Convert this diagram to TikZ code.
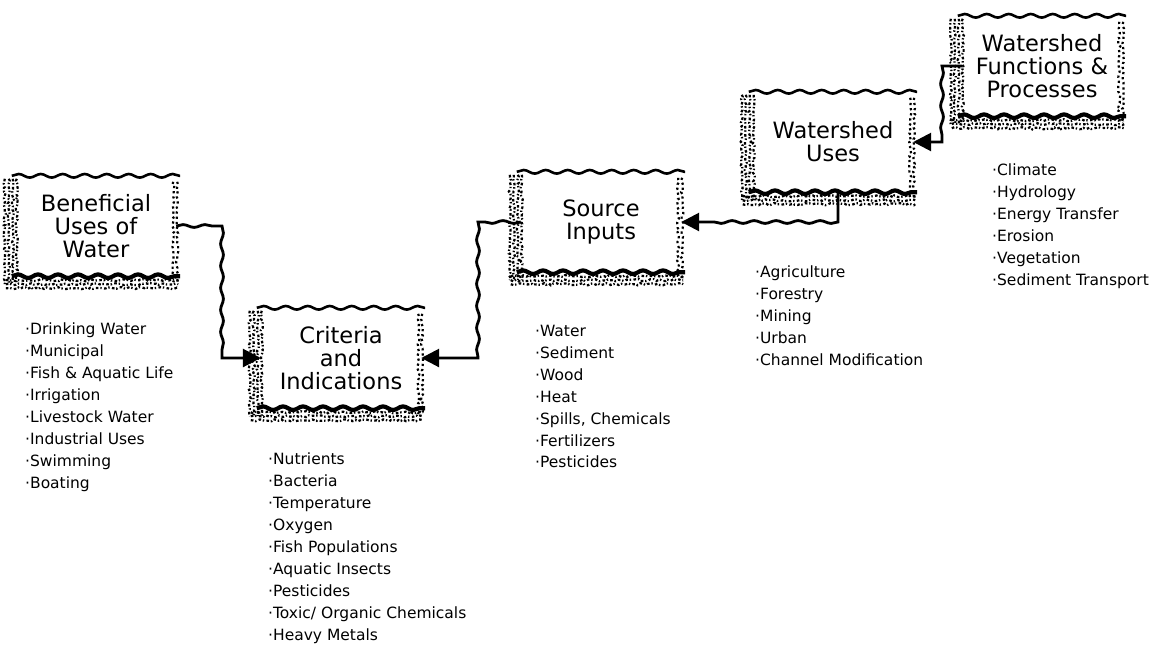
\documentclass[tikz,border=0pt]{standalone}
\usepackage{fontspec}
\setmainfont{DejaVu Sans}
\usetikzlibrary{arrows.meta, decorations.pathmorphing, calc}

\begin{document}
\pgfmathsetseed{17}
\begin{tikzpicture}[x=1pt, y=-1pt,
    box/.style={rectangle, fill=white, minimum width=160pt, minimum height=100pt, align=center, font=\fontsize{22.5}{23}\selectfont},
    items/.style={anchor=north west, align=left, inner sep=0pt, font=\fontsize{15.5}{21.9}\selectfont},
    topedge/.style={line width=2.6pt, decorate, decoration={snake, amplitude=1.8pt, segment length=22pt}},
    bottomedge/.style={line width=4.2pt, decorate, decoration={snake, amplitude=1.8pt, segment length=20pt}},
    grain/.style={line width=2.2pt, dash pattern=on 2.6pt off 1.8pt on 1.4pt off 2.4pt, decorate, decoration={random steps, segment length=2.5pt, amplitude=1.1pt}},
    flow/.style={line width=2.8pt, -{Triangle[length=18pt, width=18pt]}, decoration={snake, amplitude=1.4pt, segment length=22pt}},
]
\useasboundingbox (0,0) rectangle (1156,646);

% Boxes
\node[box] (benef) at (96, 226) {Beneficial\\Uses of\\Water};
\node[box] (crit) at (341, 358) {Criteria\\and\\Indications};
\node[box] (src) at (601, 222) {Source\\Inputs};
\node[box] (wuses) at (833, 142) {Watershed\\Uses};
\node[box] (wfunc) at (1042, 66) {Watershed\\Functions \&\\Processes};

% Sketchy borders
\foreach \b in {benef, crit, src, wuses, wfunc} {
  \draw[topedge] ([xshift=-4pt]\b.north west) -- ([xshift=4pt]\b.north east);
  \foreach \d in {-11,-7,-3,1}
    \draw[grain] ([xshift=\d pt, yshift=-3pt]\b.north west) -- ([xshift=\d pt, yshift=-8pt]\b.south west);
  \foreach \d in {-3,1}
    \draw[grain, dash pattern=on 2.2pt off 3pt] ([xshift=\d pt, yshift=-6pt]\b.north east) -- ([xshift=\d pt, yshift=-6pt]\b.south east);
  \foreach \d in {4,8,12}
    \draw[grain] ([xshift=-10pt, yshift=-\d pt]\b.south west) -- ([xshift=2pt, yshift=-\d pt]\b.south east);
  \draw[bottomedge] ([xshift=-4pt]\b.south west) -- ([xshift=4pt]\b.south east);
}

% Lists
\node[items] (benefl) at (25, 323) {·Drinking Water\\·Municipal\\·Fish \& Aquatic Life\\·Irrigation\\·Livestock Water\\·Industrial Uses\\·Swimming\\·Boating};
\node[items] (critl) at (268, 453) {·Nutrients\\·Bacteria\\·Temperature\\·Oxygen\\·Fish Populations\\·Aquatic Insects\\·Pesticides\\·Toxic/ Organic Chemicals\\·Heavy Metals};
\node[items] (srcl) at (535, 325) {·Water\\·Sediment\\·Wood\\·Heat\\·Spills, Chemicals\\·Fertilizers\\·Pesticides};
\node[items] (wusesl) at (755, 266) {·Agriculture\\·Forestry\\·Mining\\·Urban\\·Channel Modification};
\node[items] (wfuncl) at (992, 164) {·Climate\\·Hydrology\\·Energy Transfer\\·Erosion\\·Vegetation\\·Sediment Transport};

% Connectors
\coordinate (k1) at (222, 290);
\coordinate (k2) at (478, 290);
\coordinate (k3) at (838, 222);
\coordinate (k4) at (942, 100);
\draw[flow] (benef.east) decorate {-- (benef.east -| k1)} decorate {-- (k1 |- crit.west)} -- (crit.west);
\draw[flow] (src.west) decorate {-- (src.west -| k2)} decorate {-- (k2 |- crit.east)} -- (crit.east);
\draw[flow] (k3 |- wuses.south) -- (k3) decorate {-- ([xshift=24pt]src.east)} -- (src.east);
\draw[flow] (wfunc.west) -- (k4 |- wfunc.west) decorate {-- (k4 |- wuses.east)} -- (wuses.east);

\end{tikzpicture}
\end{document}
